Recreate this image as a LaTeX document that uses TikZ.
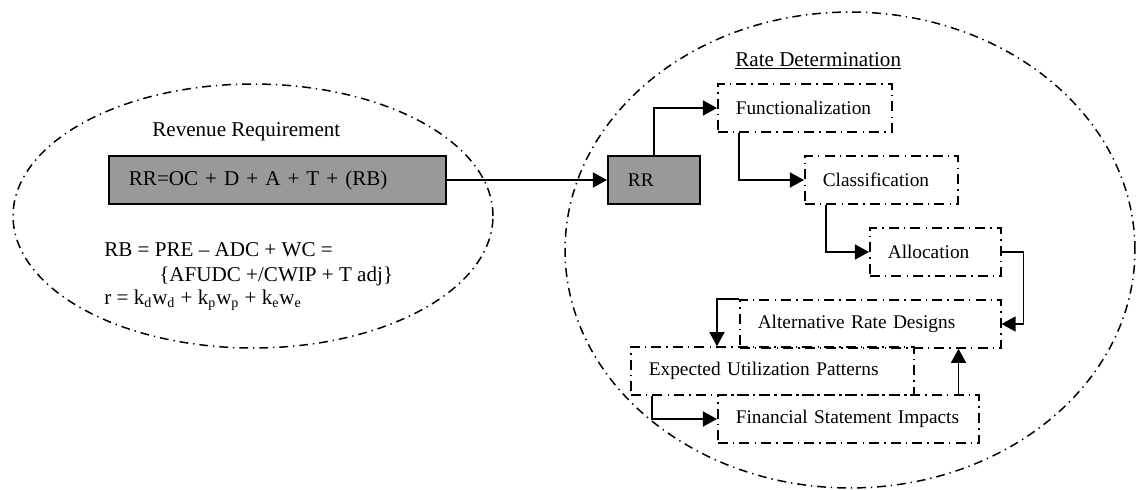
\documentclass[tikz,border=0pt]{standalone}
\usepackage{fontspec}
\setmainfont{Liberation Serif}
\usetikzlibrary{arrows.meta}
\definecolor{rrgray}{RGB}{153,153,153}

\begin{document}
\begin{tikzpicture}
      [x=0.02cm, y=-0.02cm,
      font=\fontsize{11}{13}\selectfont,
      region/.style={draw=black, line width=0.85pt, dash pattern=on 5pt off 2.8pt on 0.8pt off 2.8pt},
      stage/.style={draw=black, line width=0.9pt, dash pattern=on 5.7pt off 2.9pt on 0.8pt off 2.9pt,
        anchor=west, minimum height=0.96cm, inner xsep=0.36cm, align=left},
      sum/.style={draw=black, fill=rrgray, line width=1pt, anchor=west,
        minimum height=0.96cm, inner xsep=0.4cm, align=left},
      title/.style={anchor=west, inner sep=0pt, font=\fontsize{12}{14}\selectfont},
      arr/.style={-{Triangle[length=8pt, width=8.5pt]}, line width=1pt}]
      \useasboundingbox (0,0) rectangle (1136,490);
      % two regions
      \draw[region] (253,216) ellipse [x radius=4.8cm, y radius=2.64cm];
      \draw[region] (850,250) ellipse [x radius=5.7cm, y radius=4.76cm];
      % revenue requirement
      \node (revreq) at (152,132) [title] {Revenue Requirement};
      \node (rrbig) at (108,180) [sum, text width=5.94cm, font=\fontsize{12}{14}\selectfont] {RR=OC + D + A + T + (RB)};
      \node (rb1) at (104,250) [title] {RB = PRE – ADC + WC =};
      \node (rb2) at (159,276) [title] {\{AFUDC +/CWIP + T adj\}};
      \node (rate) at (104,300) [title] {r = k\textsubscript{d}w\textsubscript{d} + k\textsubscript{p}w\textsubscript{p} + k\textsubscript{e}w\textsubscript{e}};
      % rate determination
      \node (ratedet) at (735,61) [title] {\underline{Rate Determination}};
      \node (rr) at (607,180) [sum, text width=1.04cm] {RR};
      \node (func) at (717,108) [stage, text width=2.76cm] {Functionalization};
      \node (cls) at (804,180) [stage, text width=2.34cm] {Classification};
      \node (alloc) at (869,252) [stage, text width=1.90cm] {Allocation};
      \node (alt) at (739,324) [stage, text width=4.50cm] {Alternative Rate Designs};
      \node (eup) at (630,371) [stage, text width=4.94cm] {Expected Utilization Patterns};
      \node (fsi) at (717,419) [stage, text width=4.50cm] {Financial Statement Impacts};
      \coordinate (fsitop) at ([xshift=-0.42cm]fsi.north east);
      \coordinate (euptop) at ([xshift=1.74cm]eup.north west);
      \path (rrbig) edge[arr] (rr);
      \draw[arr] (rr.north) |- (func.west);
      \draw[arr] ([xshift=0.44cm]func.south west) |- (cls.west);
      \draw[arr] ([xshift=0.44cm]cls.south west) |- (alloc.west);
      \draw[arr] (alloc.east) -- ++(22,0) |- (alt.east);
      \draw[arr] (alt.north west) -| (euptop);
      \draw[arr] ([xshift=0.44cm]eup.south west) |- (fsi.west);
      \draw[arr] (fsitop) -- (fsitop |- alt.south);
    \end{tikzpicture}
\end{document}
